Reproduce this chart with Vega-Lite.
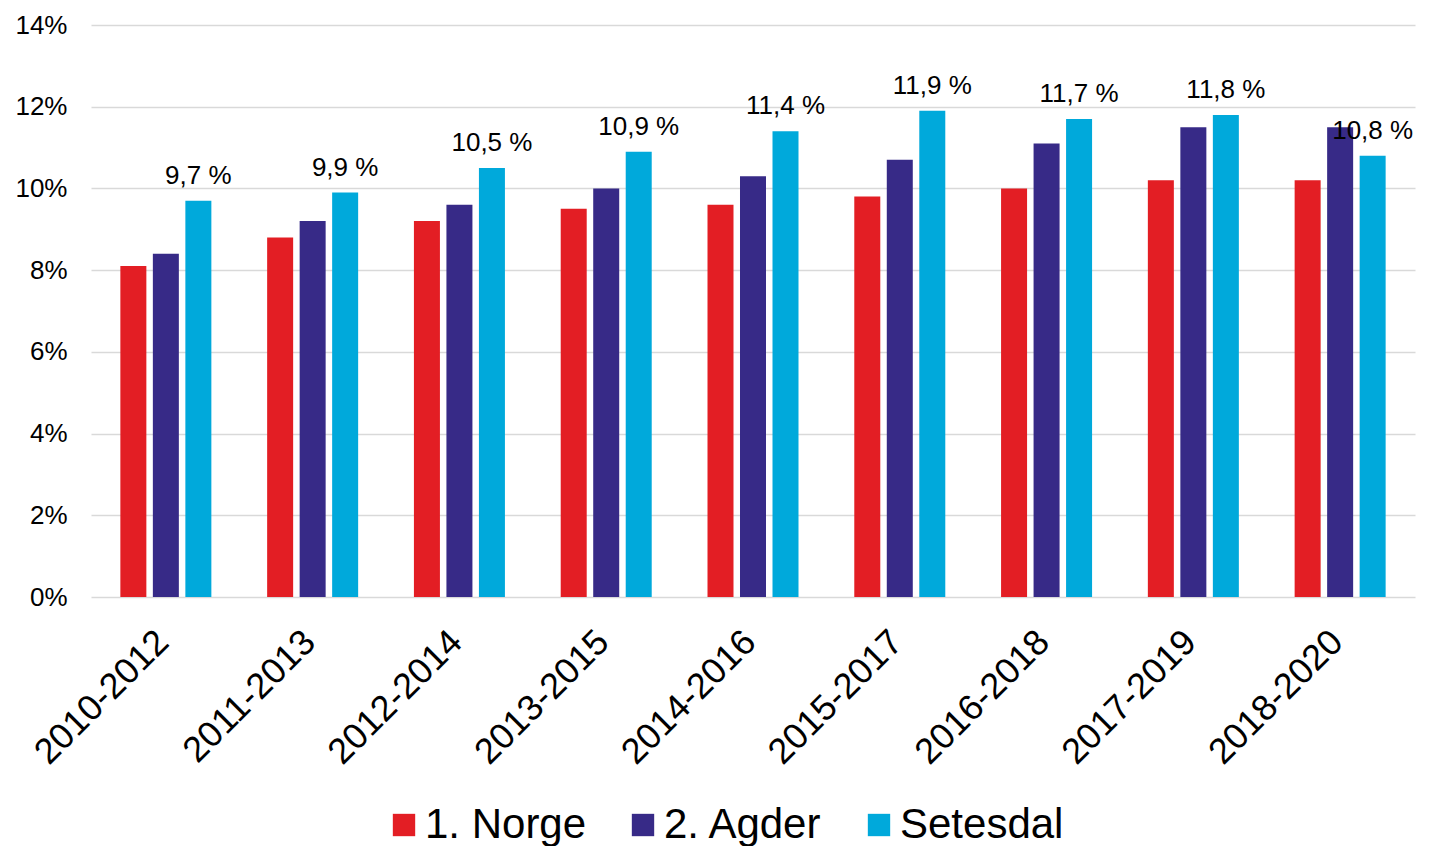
{
  "$schema": "https://vega.github.io/schema/vega-lite/v6.json",
  "autosize": "none",
  "width": 1324,
  "height": 572,
  "padding": {"left": 91, "top": 25, "right": 19, "bottom": 249},
  "background": "white",
  "data": {
    "values": [
      {"periode": "2010-2012", "serie": "1. Norge", "verdi": 0.081, "label": "8,1 %"},
      {"periode": "2010-2012", "serie": "2. Agder", "verdi": 0.084, "label": "8,4 %"},
      {"periode": "2010-2012", "serie": "Setesdal", "verdi": 0.097, "label": "9,7 %"},
      {"periode": "2011-2013", "serie": "1. Norge", "verdi": 0.088, "label": "8,8 %"},
      {"periode": "2011-2013", "serie": "2. Agder", "verdi": 0.092, "label": "9,2 %"},
      {"periode": "2011-2013", "serie": "Setesdal", "verdi": 0.099, "label": "9,9 %"},
      {"periode": "2012-2014", "serie": "1. Norge", "verdi": 0.092, "label": "9,2 %"},
      {"periode": "2012-2014", "serie": "2. Agder", "verdi": 0.096, "label": "9,6 %"},
      {"periode": "2012-2014", "serie": "Setesdal", "verdi": 0.105, "label": "10,5 %"},
      {"periode": "2013-2015", "serie": "1. Norge", "verdi": 0.095, "label": "9,5 %"},
      {"periode": "2013-2015", "serie": "2. Agder", "verdi": 0.100, "label": "10,0 %"},
      {"periode": "2013-2015", "serie": "Setesdal", "verdi": 0.109, "label": "10,9 %"},
      {"periode": "2014-2016", "serie": "1. Norge", "verdi": 0.096, "label": "9,6 %"},
      {"periode": "2014-2016", "serie": "2. Agder", "verdi": 0.103, "label": "10,3 %"},
      {"periode": "2014-2016", "serie": "Setesdal", "verdi": 0.114, "label": "11,4 %"},
      {"periode": "2015-2017", "serie": "1. Norge", "verdi": 0.098, "label": "9,8 %"},
      {"periode": "2015-2017", "serie": "2. Agder", "verdi": 0.107, "label": "10,7 %"},
      {"periode": "2015-2017", "serie": "Setesdal", "verdi": 0.119, "label": "11,9 %"},
      {"periode": "2016-2018", "serie": "1. Norge", "verdi": 0.100, "label": "10,0 %"},
      {"periode": "2016-2018", "serie": "2. Agder", "verdi": 0.111, "label": "11,1 %"},
      {"periode": "2016-2018", "serie": "Setesdal", "verdi": 0.117, "label": "11,7 %"},
      {"periode": "2017-2019", "serie": "1. Norge", "verdi": 0.102, "label": "10,2 %"},
      {"periode": "2017-2019", "serie": "2. Agder", "verdi": 0.115, "label": "11,5 %"},
      {"periode": "2017-2019", "serie": "Setesdal", "verdi": 0.118, "label": "11,8 %"},
      {"periode": "2018-2020", "serie": "1. Norge", "verdi": 0.102, "label": "10,2 %"},
      {"periode": "2018-2020", "serie": "2. Agder", "verdi": 0.115, "label": "11,5 %"},
      {"periode": "2018-2020", "serie": "Setesdal", "verdi": 0.108, "label": "10,8 %"}
    ]
  },
  "encoding": {
    "x": {
      "field": "periode",
      "type": "nominal",
      "sort": null,
      "title": null,
      "scale": {"paddingInner": 0.38, "paddingOuter": 0.2},
      "axis": {
        "labelAngle": -45,
        "labelFontSize": 36,
        "labelFont": "Liberation Sans",
        "labelColor": "#000000",
        "labelPadding": 27,
        "labelOffset": -15,
        "domain": false,
        "ticks": false
      }
    },
    "xOffset": {
      "field": "serie",
      "type": "nominal",
      "sort": ["1. Norge", "2. Agder", "Setesdal"],
      "scale": {"paddingInner": 0.2, "paddingOuter": 0}
    },
    "y": {
      "field": "verdi",
      "type": "quantitative",
      "title": null,
      "scale": {"domain": [0, 0.14], "nice": false},
      "axis": {
        "values": [0, 0.02, 0.04, 0.06, 0.08, 0.1, 0.12, 0.14],
        "format": ".0%",
        "labelFontSize": 26,
        "labelFont": "Liberation Sans",
        "labelColor": "#000000",
        "labelPadding": 24,
        "domain": false,
        "ticks": false,
        "grid": true,
        "gridColor": "#d9d9d9",
        "gridWidth": 1.5
      }
    }
  },
  "layer": [
    {
      "mark": {"type": "bar"},
      "encoding": {
        "color": {
          "field": "serie",
          "type": "nominal",
          "sort": ["1. Norge", "2. Agder", "Setesdal"],
          "title": null,
          "scale": {
            "domain": ["1. Norge", "2. Agder", "Setesdal"],
            "range": ["#E31E24", "#372A87", "#00A9DB"]
          },
          "legend": {
            "orient": "none",
            "direction": "horizontal",
            "legendX": 292,
            "legendY": 779,
            "symbolType": "square",
            "symbolSize": 500,
            "symbolStrokeWidth": 0,
            "labelFontSize": 42,
            "labelFont": "Liberation Sans",
            "labelColor": "#000000",
            "labelOffset": 0,
            "columnPadding": 35,
            "labelLimit": 400
          }
        }
      }
    },
    {
      "transform": [{"filter": "datum.serie === 'Setesdal'"}],
      "mark": {
        "type": "text",
        "baseline": "bottom",
        "dy": -12,
        "fontSize": 26,
        "font": "Liberation Sans",
        "color": "#000000"
      },
      "encoding": {
        "text": {"field": "label"}
      }
    }
  ],
  "config": {
    "view": {"stroke": null}
  }
}
